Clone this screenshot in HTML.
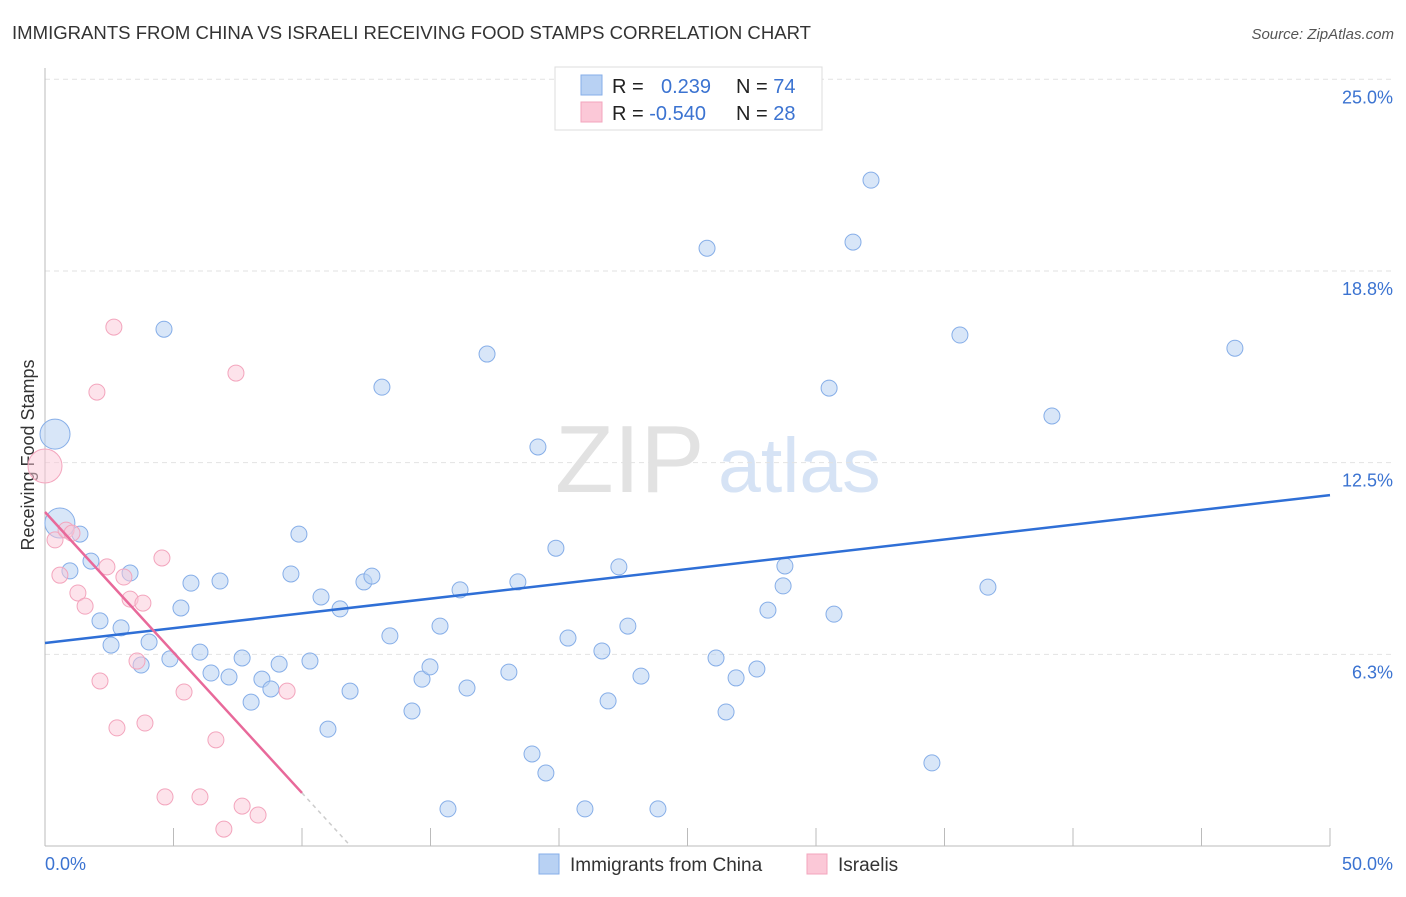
<!DOCTYPE html>
<html><head><meta charset="utf-8"><style>
body{margin:0;background:#fff;font-family:"Liberation Sans",sans-serif;}
svg text{font-family:"Liberation Sans",sans-serif;}
</style></head><body>
<svg id="chart" width="1406" height="892">
<text x="12" y="39" font-size="18" fill="#333" textLength="799" lengthAdjust="spacingAndGlyphs">IMMIGRANTS FROM CHINA VS ISRAELI RECEIVING FOOD STAMPS CORRELATION CHART</text>
<text x="1394" y="39" font-size="15" fill="#555" font-style="italic" text-anchor="end">Source: ZipAtlas.com</text>
<text transform="translate(34,455) rotate(-90)" font-size="18" fill="#333" text-anchor="middle">Receiving Food Stamps</text>
<text x="555" y="492" font-size="96" fill="#e2e2e2" font-family="Liberation Serif">ZIP</text>
<text x="718" y="492" font-size="77" fill="#d6e3f5">atlas</text>
<g id="grid"></g><g id="pts"></g><g id="lines"></g>
<g>
<rect x="555" y="67" width="267" height="63" fill="#fff" stroke="#ddd"/>
<rect x="581" y="75" width="21" height="20" fill="#b8d1f3" stroke="#86aee8"/>
<rect x="581" y="102" width="21" height="20" fill="#fbc8d7" stroke="#f3a5bd"/>
<text x="612" y="93" font-size="20" fill="#222">R = <tspan fill="#3b73d1" x="661">0.239</tspan></text>
<text x="736" y="93" font-size="20" fill="#222">N = <tspan fill="#3b73d1">74</tspan></text>
<text x="612" y="120" font-size="20" fill="#222">R = <tspan fill="#3b73d1">-0.540</tspan></text>
<text x="736" y="120" font-size="20" fill="#222">N = <tspan fill="#3b73d1">28</tspan></text>
</g>
<g>
<rect x="539" y="854" width="20" height="20" fill="#b8d1f3" stroke="#86aee8"/>
<text x="570" y="871" font-size="19" fill="#333">Immigrants from China</text>
<rect x="807" y="854" width="20" height="20" fill="#fbc8d7" stroke="#f3a5bd"/>
<text x="838" y="871" font-size="19" fill="#333">Israelis</text>
</g>
</svg>
<script>
const blueX=[0.39,0.58,1.36,0.97,1.79,2.14,2.57,2.96,3.31,3.74,4.05,4.63,4.86,5.29,5.68,6.03,6.46,6.81,7.16,7.67,8.02,8.44,8.79,9.11,9.57,9.88,10.31,10.74,11.01,11.48,11.87,12.41,12.72,13.11,13.42,14.28,14.67,14.98,15.37,15.68,16.15,16.42,17.20,18.05,18.40,18.95,19.18,19.49,19.88,20.35,21.01,21.67,21.91,22.33,22.68,23.19,23.85,25.76,26.11,26.50,26.89,27.70,28.13,28.72,28.79,30.51,30.70,31.44,32.14,34.51,35.60,36.69,39.18,46.30];
const blueY=[13.43,10.53,10.17,8.97,9.29,7.34,6.55,7.11,8.90,5.90,6.65,16.85,6.10,7.76,8.57,6.32,5.64,8.64,5.51,6.13,4.69,5.44,5.12,5.93,8.87,10.17,6.03,8.12,3.81,7.73,5.05,8.61,8.80,14.96,6.85,4.40,5.44,5.84,7.17,1.21,8.35,5.15,16.04,5.67,8.61,3.00,13.01,2.38,9.71,6.78,1.21,6.36,4.73,9.10,7.17,5.54,1.21,19.49,6.13,4.37,5.48,5.77,7.69,8.48,9.13,14.93,7.56,19.69,21.71,2.71,16.66,8.44,14.02,16.23];
const pinkX=[0,0.39,0.58,0.82,1.05,1.28,1.56,2.02,2.14,2.41,2.68,2.80,3.07,3.31,3.58,3.81,3.89,4.55,4.67,5.41,6.03,6.65,6.96,7.43,7.67,8.29,9.42];
const pinkY=[12.39,9.98,8.83,10.30,10.20,8.25,7.82,14.80,5.38,9.10,16.92,3.85,8.77,8.05,6.03,7.92,4.01,9.39,1.60,5.02,1.60,3.46,0.55,15.42,1.30,1.01,5.05];
const blueTrend=[6.62,11.44];
const pinkTrend=[10.89,1.73];
const yTicks=[6.25,12.5,18.75,25];
const yTickLabels=["6.3%","12.5%","18.8%","25.0%"];
const xTicks=[0,5,10,15,20,25,30,35,40,45,50];
const NS="http://www.w3.org/2000/svg";
const X=v=>45+v*25.7, Y=v=>846-v*30.67;
function mk(tag,attrs,parent){const e=document.createElementNS(NS,tag);for(const k in attrs)e.setAttribute(k,attrs[k]);parent.appendChild(e);return e;}
const grid=document.getElementById('grid'),pts=document.getElementById('pts'),lines=document.getElementById('lines');
yTicks.forEach((t,i)=>{
 const l=mk('line',{x1:45,x2:1395,y1:Y(t),y2:Y(t),stroke:'#e2e2e2','stroke-dasharray':'5,4'},grid);
 
 
 const tx=mk('text',{x:1393,y:Y(t)+24,'font-size':18,fill:'#3b73d1','text-anchor':'end'},grid);
 tx.textContent=yTickLabels[i];
 
 
});
const ax=mk('line',{x1:45,x2:1330,y1:846,y2:846,stroke:'#bbb'},grid);


const ay=mk('line',{x1:45,x2:45,y1:68,y2:846,stroke:'#bbb'},grid);


xTicks.forEach(t=>{
 const l=mk('line',{x1:X(t),x2:X(t),y1:828,y2:846,stroke:'#bbb'},grid);
 
 
});
const xl0=mk('text',{x:45,y:870,'font-size':18,fill:'#3b73d1'},grid);xl0.textContent=xTicks[0].toFixed(1)+'%';


const xl1=mk('text',{x:1393,y:870,'font-size':18,fill:'#3b73d1','text-anchor':'end'},grid);xl1.textContent=xTicks[xTicks.length-1].toFixed(1)+'%';


blueX.forEach((x,i)=>{
 const c=mk('circle',{cx:X(x),cy:Y(blueY[i]),r:i<2?15:8,fill:'rgba(184,209,243,0.55)',stroke:'#86aee8','stroke-width':1},pts);
 
 
});
pinkX.forEach((x,i)=>{
 const c=mk('circle',{cx:X(x),cy:Y(pinkY[i]),r:i<1?17:8,fill:'rgba(251,200,215,0.5)',stroke:'#f3a5bd','stroke-width':1},pts);
 
 
});
const bl=mk('line',{x1:X(0),y1:Y(blueTrend[0]),x2:X(50),y2:Y(blueTrend[1]),stroke:'#2f6fd6','stroke-width':2.5},lines);


const pl=mk('line',{x1:X(0),y1:Y(pinkTrend[0]),x2:X(10),y2:Y(pinkTrend[1]),stroke:'#e8699a','stroke-width':2.5},lines);


const slope=(pinkTrend[1]-pinkTrend[0])/10, xz=-pinkTrend[0]/slope;
const pd=mk('line',{x1:X(10),y1:Y(pinkTrend[1]),x2:X(xz),y2:Y(0),stroke:'#ccc','stroke-width':1.5,'stroke-dasharray':'4,4'},lines);


</script>
</body></html>
